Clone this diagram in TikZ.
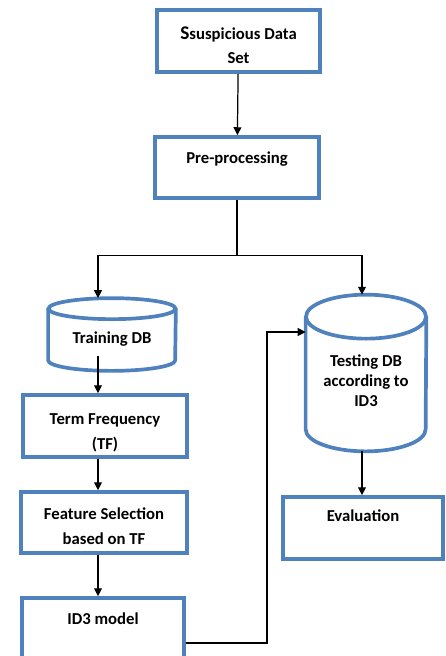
\documentclass[tikz,border=0pt]{standalone}
\usepackage{fontspec}
\setmainfont{Carlito}
\usepackage{tikz}
\usetikzlibrary{arrows.meta,calc}
\definecolor{boxblue}{RGB}{79,129,189}
\newcommand{\flowfont}{\fontsize{9.5}{14}\selectfont\bfseries}
\newcommand{\dropby}[1]{\rule{0pt}{#1}}
% outline of a data base drum round a node: node, x radius, y radius
\newcommand{\drawdb}[3]{%
	\draw[dbline] ([yshift=-#3]#1.north) ellipse ({#2} and {#3});
	\draw[dbline] ([yshift=-#3]#1.north west) -- ([yshift=#3]#1.south west)
		arc (180:360:{#2} and {#3}) -- ([yshift=-#3]#1.north east);}

\begin{document}
\begin{tikzpicture}[
	box/.style={draw=boxblue,line width=2.1pt,rectangle,inner sep=0pt,align=center,font=\flowfont},
	db/.style={rectangle,inner sep=0pt,align=center,font=\fontsize{9.5}{11.4}\selectfont\bfseries},
	dbline/.style={draw=boxblue,line width=2.1pt},
	arr/.style={-{Triangle[length=4.5pt,width=4.5pt]},line width=0.7pt},
	toptext/.style={text height=7pt,text depth=#1}]
	\useasboundingbox (0,0) rectangle (8.92,-13.12);
	% left column and top
	\node[box,minimum width=3.26cm,minimum height=1.24cm] (sus) at (4.77,-0.82) {\dropby{12pt}{\fontsize{11}{14}\selectfont S}suspicious Data\\Set};
	\node[box,minimum width=3.28cm,minimum height=1.22cm,toptext=11.8pt] (pre) at (4.74,-3.35) {Pre-processing};
	\node[db,minimum width=2.54cm,minimum height=1.44cm] (train) at (2.24,-6.69) {\dropby{11.5pt}Training DB};
	\node[box,minimum width=3.28cm,minimum height=1.24cm] (tf) at (2.1,-8.52) {\dropby{13.8pt}Term Frequency\\(TF)};
	\node[box,minimum width=3.32cm,minimum height=1.22cm] (fs) at (2.08,-10.45) {\dropby{11pt}Feature Selection\\based on TF};
	\node[box,minimum width=3.24cm,minimum height=1.8cm,toptext=27.8pt] (id3) at (2.06,-12.86) {ID3 model};
	% right column
	\node[db,minimum width=2.4cm,minimum height=3.12cm] (test) at (7.32,-7.46) {\dropby{15pt}Testing DB\\according to\\ID3};
	\node[box,minimum width=3.2cm,minimum height=1.24cm,toptext=14.2pt] (eval) at (7.26,-10.56) {Evaluation};
	\drawdb{train}{1.27cm}{0.21cm}
	\drawdb{test}{1.2cm}{0.44cm}
	\coordinate (split) at ($(pre.south)+(0,-1.12)$);
	\coordinate (lcol) at (1.96,0);
	\coordinate (rcol) at (7.24,0);
	\coordinate (jog) at (5.34,-6.64);
	% connectors
	\draw[arr] (sus) -- (pre);
	\draw[line width=0.7pt] (pre) -- (split);
	\draw[arr] (split) -| (train.north -| lcol);
	\draw[arr] (split) -| (test.north -| rcol);
	\draw[arr] ([yshift=0.3cm]train.south -| lcol) -- (tf.north -| lcol);
	\draw[arr] (tf.south -| lcol) -- (fs.north -| lcol);
	\draw[arr] (fs.south -| lcol) -- (id3.north -| lcol);
	\draw[arr] (id3.east) -| (jog) -- (jog -| test.west);
	\draw[arr] (test.south -| rcol) -- (eval.north -| rcol);
\end{tikzpicture}
\end{document}
